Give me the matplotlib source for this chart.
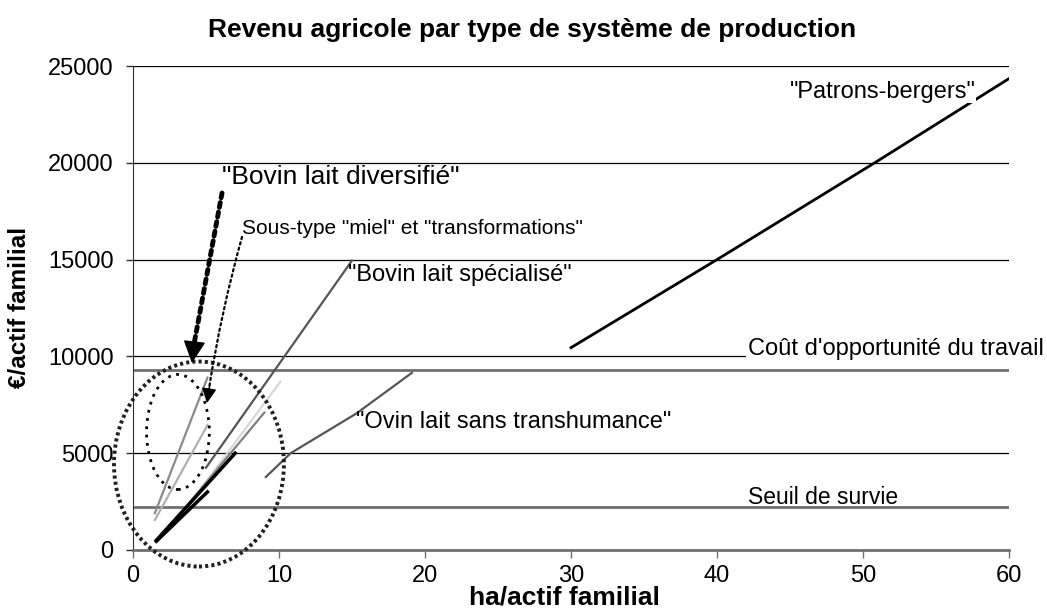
import numpy as np
import matplotlib
matplotlib.use("Agg")
import matplotlib.pyplot as plt
from matplotlib.patches import Ellipse

plt.rcParams['font.family'] = ['Liberation Sans', 'DejaVu Sans']

# series (ha/actif familial, euro/actif familial)
patrons_x = [30, 40, 50.8, 60]
patrons_y = [10450, 15000, 20000, 24350]
ovin_x = [9.1, 10.8, 15.3, 19.1]
ovin_y = [3770, 5000, 7050, 9150]
bovin_spec_x = [5.0, 15.0]
bovin_spec_y = [4250, 14950]
# small lines grouped in the ellipse
diversifie_x = [[1.5, 5.1], [1.5, 5.1]]
diversifie_y = [[1900, 8900], [1550, 6450]]
autres_x = [[3.6, 10.1], [3.6, 9.0], [1.6, 7.0], [1.6, 5.1]]
autres_y = [[2100, 8700], [2200, 7100], [500, 5000], [450, 3000]]

cout_opportunite = 9300
seuil_survie = 2200

fig = plt.figure(figsize=(10.47, 6.09), dpi=100)
ax = fig.add_axes([0.127, 0.0969, 0.8367, 0.7947])

ax.set_xlim(0, 60)
ax.set_ylim(0, 25000)
ax.set_xticks(np.arange(0, 61, 10))
ax.set_yticks(np.arange(0, 25001, 5000))
ax.yaxis.grid(True, color='black', lw=0.9)
ax.set_axisbelow(True)
for s in ['top', 'right']:
    ax.spines[s].set_visible(False)
ax.spines['left'].set_color('#303030')
ax.spines['bottom'].set_color('#707070')
ax.spines['bottom'].set_linewidth(2)
ax.tick_params(axis='x', direction='out', length=6, width=1, color='#707070',
               labelsize=17, pad=5)
ax.tick_params(axis='y', direction='out', length=5, width=1, color='#303030',
               labelsize=17, pad=9)

# reference levels
ax.axhline(cout_opportunite, color='#707070', lw=2)
ax.axhline(seuil_survie, color='#707070', lw=2)

# the lines
ax.plot(patrons_x, patrons_y, color='black', lw=2)
ax.plot(ovin_x, ovin_y, color='#555555', lw=1.6)
ax.plot(bovin_spec_x, bovin_spec_y, color='#555555', lw=1.6)
for xs, ys, c in zip(diversifie_x, diversifie_y, ['#8a8a8a', '#b0b0b0']):
    ax.plot(xs, ys, color=c, lw=1.6)
for xs, ys, c, w in zip(autres_x, autres_y,
                        ['#d8d8d8', '#808080', 'black', 'black'],
                        [1.6, 1.6, 2.5, 2.5]):
    ax.plot(xs, ys, color=c, lw=w)

# ellipses
ax.add_patch(Ellipse((4.52, 4440), 11.64, 10590, fill=False, color='#202020',
                     lw=2.8, ls=(0, (0.8, 0.8)), clip_on=False, zorder=5))
ax.add_patch(Ellipse((3.08, 6095), 4.3, 5940, fill=False, color='black',
                     lw=2, ls=(0, (1, 2)), clip_on=False, zorder=5))

# arrows: dotted shaft, then a solid head
ax.annotate('', xy=(4.1, 10300), xytext=(6.1, 18440),
            arrowprops=dict(arrowstyle='-', ls=(0, (1, 1)), lw=3.5,
                            color='black', shrinkA=0, shrinkB=0), zorder=6)
ax.annotate('', xy=(4.04, 9660), xytext=(4.2, 10700),
            arrowprops=dict(arrowstyle='-|>,head_length=1.4,head_width=0.7',
                            lw=1, color='black', shrinkA=0, shrinkB=0), zorder=6)
ax.annotate('', xy=(5.2, 8300), xytext=(7.47, 16170),
            arrowprops=dict(arrowstyle='-', ls=(0, (1, 1.5)), lw=1.6,
                            color='black', connectionstyle='arc3,rad=0.03',
                            shrinkA=0, shrinkB=0), zorder=6)
ax.annotate('', xy=(5.07, 7590), xytext=(5.25, 8500),
            arrowprops=dict(arrowstyle='-|>,head_length=0.9,head_width=0.45',
                            lw=1, color='black', shrinkA=0, shrinkB=0), zorder=6)

# labels
lab = dict(fontsize=17, va='center', ha='left', zorder=7)
ax.text(6.1, 19270, '"Bovin lait diversifié"', fontsize=19, va='center',
        ha='left', zorder=7)
ax.text(7.47, 16630, 'Sous-type "miel" et "transformations"', fontsize=15,
        va='center', ha='left', zorder=7)
ax.text(14.7, 14200, '"Bovin lait spécialisé"', **lab)
ax.text(15.3, 6610, '"Ovin lait sans transhumance"', **lab)
ax.text(45.0, 23660, '"Patrons-bergers"',
        bbox=dict(facecolor='white', edgecolor='none', pad=0), **lab)
ax.text(42.1, 10380, "Coût d'opportunité du travail", clip_on=False,
        bbox=dict(facecolor='white', edgecolor='none', pad=1), **lab)
ax.text(42.1, 2690, 'Seuil de survie', fontsize=16.5, va='center', ha='left',
        zorder=7)

ax.set_xlabel('ha/actif familial', fontsize=19, fontweight='bold')
ax.xaxis.set_label_coords(0.493, -0.1235)
ax.xaxis.label.set_va('bottom')
ax.set_ylabel('€/actif familial', fontsize=17.5, fontweight='bold')
ax.yaxis.set_label_coords(-0.129, 0.502)
ax.yaxis.label.set_va('center')

fig.text(0.508, 0.951, 'Revenu agricole par type de système de production',
         fontsize=19, fontweight='bold', ha='center', va='center')

fig.savefig('out.png', dpi=100)
